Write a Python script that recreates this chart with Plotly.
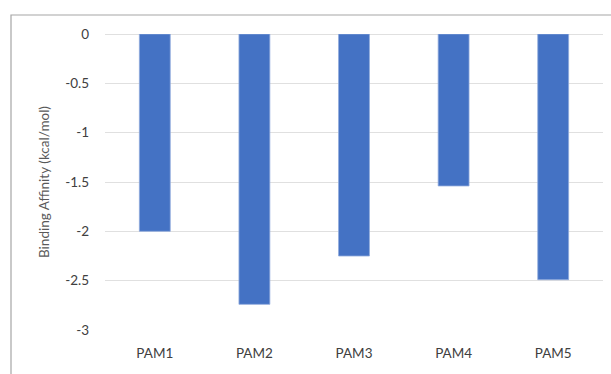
import plotly.graph_objects as go

# Binding affinity of each PAM candidate
categories = ["PAM1", "PAM2", "PAM3", "PAM4", "PAM5"]
affinity = [-2.0, -2.74, -2.25, -1.54, -2.49]
y_ticks = [0, -0.5, -1, -1.5, -2, -2.5, -3]
y_tick_text = ["0", "-0.5", "-1", "-1.5", "-2", "-2.5", "-3"]

W, H = 611, 374
L, R, T, B = 105, 8, 34, 44
plot_w = W - L - R
plot_h = H - T - B

font_family = "Lato, 'Open Sans', sans-serif"
text_color = "#595959"

fig = go.Figure(
    go.Bar(
        x=categories,
        y=affinity,
        width=0.31,
        marker=dict(color="#4472C4", line=dict(color="#8faadc", width=0.8)),
    )
)

# Outer chart frame (top and left edges visible)
fx0 = (11 - L) / plot_w
fy1 = (H - B - 15) / plot_h
fig.add_shape(
    type="rect", xref="paper", yref="paper",
    x0=fx0, x1=1.3, y0=-0.5, y1=fy1,
    line=dict(color="#a6a6a6", width=1.2),
    fillcolor="rgba(0,0,0,0)", layer="below",
)

fig.update_layout(
    width=W,
    height=H,
    margin=dict(l=L, r=R, t=T, b=B, autoexpand=False),
    plot_bgcolor="white",
    paper_bgcolor="white",
    showlegend=False,
    font=dict(family=font_family, size=13.5, color=text_color),
    bargap=0.69,
)
fig.update_xaxes(
    showgrid=False,
    showline=False,
    zeroline=False,
    ticks="",
    ticklabelstandoff=13,
    tickfont=dict(size=13.5, color="#404040"),
)
fig.update_yaxes(
    range=[-3, 0],
    tickvals=y_ticks,
    ticktext=y_tick_text,
    showgrid=True,
    gridcolor="#e0e0e0",
    gridwidth=1,
    zeroline=True,
    zerolinecolor="#e0e0e0",
    zerolinewidth=1,
    showline=False,
    ticks="",
    ticklabelstandoff=15,
    tickfont=dict(size=13.5, color="#404040"),
    title=dict(
        text="Binding Affinity (kcal/mol)",
        font=dict(size=13.5, color=text_color),
        standoff=12,
    ),
)

fig.write_html("out.html")
